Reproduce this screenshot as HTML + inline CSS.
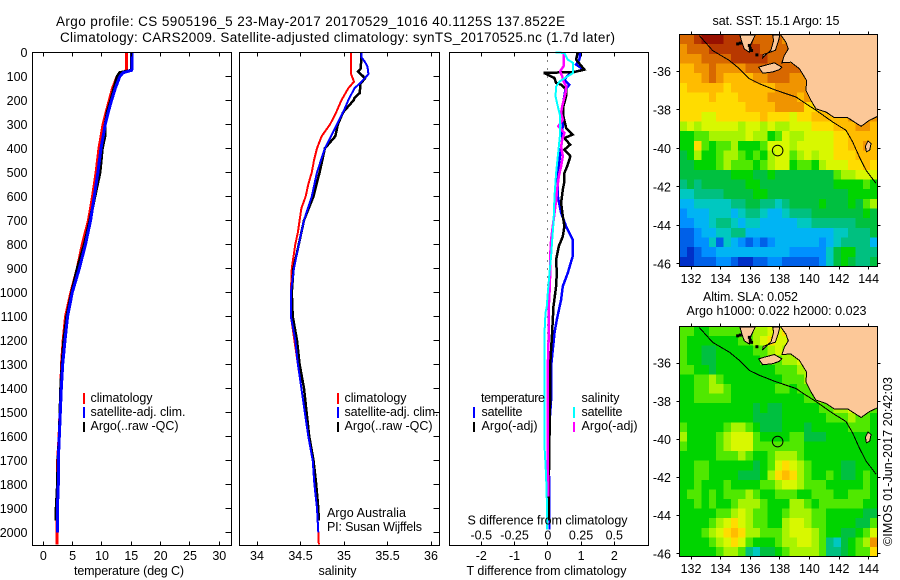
<!DOCTYPE html>
<html lang="en">
<head>
<meta charset="utf-8">
<title>Argo profile 5905196_5</title>
<style>
html,body{margin:0;padding:0;background:#fff;}
svg{display:block;}
text{font-family:"Liberation Sans",sans-serif;font-size:12.5px;fill:#000;}
.title{font-size:13.5px;}
</style>
</head>
<body>
<svg id="chart" xmlns="http://www.w3.org/2000/svg" width="900" height="580" viewBox="0 0 900 580">
<rect x="0" y="0" width="900" height="580" fill="#fff"/>
<text class="title" x="56" y="26" textLength="509" lengthAdjust="spacing">Argo profile: CS 5905196_5 23-May-2017 20170529_1016 40.1125S 137.8522E</text>
<text class="title" x="60" y="42" textLength="555" lengthAdjust="spacing">Climatology: CARS2009. Satellite-adjusted climatology: synTS_20170525.nc (1.7d later)</text>
<g id="layer-marks"></g>
<g id="layer-frames"></g>

<text x="74" y="575" textLength="110" lengthAdjust="spacing">temperature (deg C)</text>
<text x="318.500" y="575" textLength="38" lengthAdjust="spacing">salinity</text>
<text x="467.500" y="524.500" textLength="160" lengthAdjust="spacing">S difference from climatology</text>
<text x="466.500" y="575" textLength="160" lengthAdjust="spacing">T difference from climatology</text>

<g>
<rect x="83" y="393" width="2" height="11" fill="#ff0000"/>
<rect x="83" y="407" width="2" height="11" fill="#0000ff"/>
<rect x="83" y="422" width="2" height="10" fill="#000"/>
<text x="90.500" y="402" textLength="62" lengthAdjust="spacing">climatology</text>
<text x="90.500" y="416" textLength="95" lengthAdjust="spacing">satellite-adj. clim.</text>
<text x="90.500" y="430" textLength="88" lengthAdjust="spacing">Argo(..raw -QC)</text>
</g>
<g>
<rect x="337" y="393" width="2" height="11" fill="#ff0000"/>
<rect x="337" y="407" width="2" height="11" fill="#0000ff"/>
<rect x="337" y="422" width="2" height="10" fill="#000"/>
<text x="344.500" y="402" textLength="62" lengthAdjust="spacing">climatology</text>
<text x="344.500" y="416" textLength="94" lengthAdjust="spacing">satellite-adj. clim.</text>
<text x="344.500" y="430" textLength="88" lengthAdjust="spacing">Argo(..raw -QC)</text>
</g>
<text x="327" y="517" textLength="79" lengthAdjust="spacing">Argo Australia</text>
<text x="327" y="531" textLength="95" lengthAdjust="spacing">PI: Susan Wijffels</text>
<g>
<text x="481" y="402" textLength="64" lengthAdjust="spacing">temperature</text>
<text x="581.500" y="402" textLength="38" lengthAdjust="spacing">salinity</text>
<rect x="473" y="407" width="2" height="11" fill="#0000ff"/>
<rect x="473" y="422" width="2" height="10" fill="#000"/>
<rect x="573" y="407" width="2" height="11" fill="#00ffff"/>
<rect x="573" y="422" width="2" height="10" fill="#ff00ff"/>
<text x="481.500" y="416" textLength="41" lengthAdjust="spacing">satellite</text>
<text x="481.500" y="430" textLength="56" lengthAdjust="spacing">Argo(-adj)</text>
<text x="581.500" y="416" textLength="41" lengthAdjust="spacing">satellite</text>
<text x="581.500" y="430" textLength="56" lengthAdjust="spacing">Argo(-adj)</text>
</g>

<text x="712.500" y="25" textLength="127" lengthAdjust="spacing">sat. SST: 15.1 Argo: 15</text>
<text x="703" y="301" textLength="95" lengthAdjust="spacing">Altim. SLA: 0.052</text>
<text x="686.500" y="315" textLength="180" lengthAdjust="spacing">Argo h1000: 0.022 h2000: 0.023</text>
<text transform="translate(892,546) rotate(-90)" textLength="169" lengthAdjust="spacing">©IMOS 01-Jun-2017 20:42:03</text>
</svg>
<script>
// ---------- axis tick labels ----------
const depthTicks = [0,100,200,300,400,500,600,700,800,900,1000,1100,1200,1300,1400,1500,1600,1700,1800,1900,2000];
const tempTicks = [0,5,10,15,20,25,30];
const salTicks = [34,34.5,35,35.5,36];
const tDiffTicks = [-2,-1,0,1,2];
const sDiffTicks = [-0.5,-0.25,0,0.25,0.5];
const lonTicks = [132,134,136,138,140,142,144];
const latTicks = [-36,-38,-40,-42,-44,-46];

// ---------- temperature panel ----------
const tClimDepth = [0,75,85,100,150,200,250,300,400,500,600,700,800,900,1000,1100,1200,1300,1400,1500,1600,1700,1800,1900,2000,2050];
const tClimValue = [14.2,14.2,13.6,12.6,11.8,11.25,10.7,10.2,9.5,9.0,8.4,7.7,6.65,5.8,4.7,3.8,3.4,3.1,3.0,2.85,2.7,2.45,2.4,2.3,2.35,2.35];
const tSatDepth = [0,70,75,85,100,150,200,250,300,400,500,600,700,800,900,1000,1100,1200,1300,1400,1500,1600,1700,1800,1900,2000];
const tSatValue = [15.1,15.1,15.05,13.6,13.05,12.27,11.65,11.07,10.57,9.83,9.3,8.7,8.07,7.2,6.15,4.95,4.15,3.7,3.3,3.07,2.9,2.73,2.56,2.56,2.4,2.4];
const tArgoDepth = [0,75,85,100,150,200,250,300,350,400,500,600,700,800,900,1000,1100,1200,1300,1400,1500,1600,1700,1800,1900,1950];
const tArgoValue = [15.0,15.0,13.0,12.6,12.05,11.5,10.9,10.55,10.5,10.05,9.66,8.8,7.95,7.0,5.8,4.84,4.0,3.5,3.2,2.96,2.85,2.73,2.5,2.42,2.2,2.2];

// ---------- salinity panel ----------
const sClimDepth = [0,90,122,150,200,250,300,350,400,450,500,550,600,650,700,750,800,900,1000,1100,1200,1300,1400,1500,1600,1700,1800,1900,2000,2050];
const sClimValue = [35.08,35.08,35.115,35.05,34.97,34.91,34.84,34.743,34.69,34.655,34.63,34.59,34.56,34.51,34.49,34.47,34.44,34.4,34.39,34.39,34.43,34.47,34.51,34.55,34.6,34.65,34.67,34.69,34.705,34.71];
const sSatDepth = [0,20,40,60,90,100,130,150,200,250,300,400,500,600,700,800,900,1000,1100,1200,1300,1400,1500,1600,1700,1800,1900,2000];
const sSatValue = [35.2,35.2,35.24,35.27,35.28,35.26,35.18,35.12,35.05,34.99,34.92,34.78,34.69,34.63,34.54,34.48,34.425,34.39,34.39,34.44,34.47,34.51,34.55,34.59,34.64,34.66,34.69,34.705];
const sArgoDepth = [0,30,70,80,100,110,130,170,190,200,250,300,350,400,500,600,700,800,900,1000,1100,1200,1300,1400,1500,1600,1700,1800,1900,1950];
const sArgoValue = [35.2,35.2,35.19,35.16,35.22,35.24,35.19,35.18,35.12,35.11,34.99,34.93,34.9,34.78,34.72,34.65,34.54,34.48,34.42,34.4,34.41,34.46,34.49,34.54,34.57,34.6,34.65,34.68,34.705,34.71];

// ---------- difference panel ----------
const dtSatDepth = [0,31,51,72,86,97,114,135,156,197,281,364,503,600,669,725,781,850,919,975,1031,1114,1169,1239,1308,1447,1544,1725,1864,1989];
const dtSatValue = [0.97,0.95,0.85,1.07,0.7,0.6,0.5,0.65,0.53,0.48,0.45,0.43,0.3,0.3,0.4,0.55,0.75,0.75,0.6,0.45,0.4,0.27,0.2,0.15,0.1,0.1,0.05,0.03,0.05,0.05];
const dtArgoDepth = [0,31,72,82,86,107,128,135,156,183,225,267,315,343,357,385,406,433,468,503,538,572,628,683,725,767,808,864,919,975,1058,1114,1169,1308,1447,1600,1800,1950];
const dtArgoValue = [0.9,0.85,1.1,0.8,-0.12,0.2,0.25,0.4,0.55,0.55,0.47,0.47,0.55,0.75,0.5,0.67,0.5,0.68,0.6,0.5,0.5,0.45,0.4,0.45,0.5,0.45,0.33,0.25,0.27,0.25,0.17,0.15,0.13,0.07,0.07,0.05,0.03,0.03];
const dsSatDepth = [0,3,31,44,86,100,121,142,183,225,267,336,433,503,600,711,781,850,919,1003,1058,1086,1169,1447,1640,1765,1864,1989];
const dsSatValue = [0.058,0.125,0.15,0.19,0.19,0.15,0.09,0.063,0.058,0.075,0.093,0.093,0.075,0.0625,0.05,0.043,0.033,0.025,0.0125,0,-0.0075,-0.0175,-0.025,-0.025,-0.025,-0.0125,-0.0075,-0.005];
const dsArgoDepth = [5,24,58,79,100,121,142,169,225,253,281,308,336,364,392,433,475,517,572,614,669,781,850,919,1003,1058,1100,1169,1308,1447,1586,1725,1850];
const dsArgoValue = [0.118,0.118,0.118,0.093,0.108,0.118,0.138,0.133,0.108,0.1,0.113,0.08,0.125,0.108,0.1,0.113,0.1,0.083,0.07,0.063,0.05,0.025,0.018,0.018,0.0125,0.0075,0.0075,0.0075,0,0,0,0,0.005];

// ---------- maps: colour level per cell, 27 columns by 24 rows ----------
const sstLevels = [
[14,14,15,16,16,16,15,15,15,15,14,14,14,14,13,13,13,13,13,13,13,13,13,13,13,13,13],
[13,14,14,14,15,15,15,15,15,15,15,14,14,14,14,13,13,13,13,13,13,13,13,13,13,13,13],
[13,13,13,14,14,14,14,15,15,15,15,15,14,14,14,13,13,12,13,13,13,13,13,13,13,13,13],
[12,12,13,13,14,13,13,13,13,14,14,14,14,14,14,14,14,13,13,13,13,13,13,13,13,13,13],
[12,12,12,13,14,13,12,12,12,12,13,13,14,14,14,13,13,13,13,13,12,13,13,13,13,13,13],
[11,12,12,12,12,12,11,12,12,12,12,12,12,13,13,13,13,13,13,13,12,11,13,13,13,13,13],
[11,11,11,11,12,11,11,11,12,12,12,12,13,13,13,13,12,13,13,13,12,13,13,13,13,13,13],
[11,11,11,11,11,11,11,11,11,12,12,12,12,13,13,13,13,11,11,12,12,13,13,13,13,12,13],
[11,11,11,10,10,11,11,11,11,11,11,12,11,11,11,10,11,11,12,12,12,12,12,13,13,13,13],
[9,10,9,10,10,10,10,10,9,10,10,9,10,9,9,10,10,10,11,11,11,12,12,12,13,13,12],
[7,7,8,8,9,9,9,9,9,10,9,9,7,8,10,9,9,10,10,10,10,11,11,12,12,12,12],
[7,7,11,8,7,8,8,9,7,7,7,8,10,10,10,9,10,10,10,10,10,11,11,12,12,13,12],
[6,7,9,7,7,8,9,9,8,7,8,7,9,10,10,8,9,10,9,10,10,11,11,11,12,12,12],
[6,6,7,7,7,8,9,8,8,8,7,8,9,10,10,7,8,8,7,9,10,10,10,11,11,12,11],
[6,6,6,6,6,6,6,7,7,7,6,6,7,6,6,6,6,6,6,6,6,8,9,9,10,10,10],
[5,6,5,6,6,6,6,6,6,7,7,6,6,6,6,6,6,6,6,6,6,7,7,7,7,8,7],
[4,4,5,5,5,5,6,6,6,6,7,7,6,6,6,6,6,6,6,6,6,6,6,7,7,7,7],
[3,3,4,4,4,4,4,5,5,6,6,5,5,4,5,6,6,6,6,7,6,6,6,7,6,8,9],
[2,3,3,3,4,4,4,3,4,5,5,4,3,3,4,5,5,5,6,6,6,6,6,6,6,7,6],
[2,2,3,3,4,5,5,4,3,4,4,3,3,3,3,3,4,4,5,5,5,5,5,5,6,6,6],
[1,1,2,3,3,4,4,5,5,3,3,3,3,3,3,3,3,3,3,3,3,4,4,5,5,5,6],
[1,1,2,2,4,1,4,3,2,1,2,1,2,3,3,3,3,3,3,2,3,4,5,5,5,5,3],
[1,0,1,2,2,3,3,3,3,3,3,3,3,3,3,2,2,2,2,2,4,6,7,7,5,5,5],
[0,0,1,1,1,2,2,1,0,0,1,1,2,2,1,1,1,1,1,2,4,6,7,6,5,5,6]
];
const slaLevels = [
[8,8,7,7,8,8,8,8,8,8,9,9,10,10,11,11,10,10,10,10,10,10,10,10,10,10,10],
[8,7,7,7,7,7,7,7,8,8,9,10,11,10,10,10,10,9,9,9,9,9,9,9,9,9,9],
[8,7,7,6,6,7,7,7,7,7,8,8,9,10,9,9,10,10,10,10,10,10,10,10,10,10,10],
[8,7,7,6,6,7,7,7,7,7,7,8,8,8,9,9,10,10,10,10,10,10,10,10,10,10,10],
[8,8,7,7,6,7,7,7,7,7,7,7,7,8,8,8,9,9,10,10,10,10,10,10,10,10,10],
[7,7,8,8,9,8,7,7,7,7,7,7,7,7,8,8,8,9,9,10,10,10,10,10,10,10,10],
[7,7,8,8,9,9,8,7,7,7,7,7,7,8,8,7,8,8,9,9,10,10,10,10,10,10,10],
[7,7,8,8,8,8,8,7,7,7,7,7,7,7,7,7,7,8,8,9,9,10,10,10,10,10,10],
[7,7,7,7,7,7,7,7,7,7,6,7,6,6,7,7,7,7,7,8,8,9,9,10,9,8,8],
[7,7,7,7,7,7,7,7,7,7,6,6,6,6,7,7,7,7,7,7,8,8,8,9,8,8,7],
[8,7,7,7,7,7,8,9,9,8,7,6,6,6,7,7,7,6,7,7,7,7,7,8,8,8,7],
[9,7,7,7,7,8,9,10,10,10,8,7,7,7,7,8,8,6,6,6,7,7,7,7,7,7,7],
[8,7,7,7,7,8,9,10,10,10,8,8,8,8,8,8,8,7,7,7,7,7,7,7,7,7,7],
[7,7,7,7,7,8,8,8,9,8,7,7,8,9,9,9,8,7,7,7,7,7,7,7,7,7,7],
[7,7,8,8,7,7,7,7,7,7,6,7,8,10,11,10,9,8,7,7,7,7,6,6,7,7,7],
[7,7,8,8,7,7,7,7,6,6,6,7,9,11,12,11,9,8,7,7,8,7,6,6,7,8,7],
[7,7,8,7,7,7,8,7,7,7,7,8,8,9,10,10,9,8,8,8,7,7,7,7,7,8,7],
[7,8,8,7,8,7,8,8,8,9,8,7,7,8,8,8,7,7,8,8,8,7,7,8,8,8,7],
[7,7,8,7,8,7,7,8,9,9,9,8,7,7,7,9,9,8,7,8,8,8,8,8,8,7,7],
[7,7,7,7,7,8,8,9,10,9,8,8,7,7,8,9,9,9,8,8,7,7,7,7,7,6,6],
[7,7,7,7,8,9,10,11,10,9,8,8,7,7,9,10,10,9,8,8,7,7,7,7,6,6,8],
[7,7,7,8,9,10,11,12,11,9,9,8,8,8,9,10,10,10,9,8,7,7,6,6,7,8,10],
[7,7,7,7,8,9,10,11,10,8,7,7,7,8,9,9,10,10,9,8,5,4,6,7,8,9,13],
[7,7,7,7,7,8,9,9,8,5,4,6,6,7,8,9,9,9,9,8,5,5,6,7,8,8,11]
];
const levelColors = ['#0030c8','#0060e8','#0090ff','#00b4f4','#00c8c0','#00c080','#00c040','#00d400','#50e800','#a8f400','#d8f800','#ffdc00','#ffbc00','#f09400','#d86800','#b83800','#981000'];

// ---------- geography, degrees ----------
const mainlandLon = [138.0,138.08,138.41,138.57,138.30,138.14,138.75,139.32,139.81,139.77,140.10,140.44,141.12,141.68,142.58,142.92,143.49,144.05,144.62,144.62];
const mainlandLat = [-33.9,-34.12,-34.48,-34.83,-35.17,-35.55,-35.52,-35.86,-36.47,-36.99,-37.50,-37.94,-38.11,-38.40,-38.40,-38.57,-38.85,-38.54,-38.33,-33.9];
const eyreLon = [135.3,135.44,135.6,135.94,136.05,136.34];
const eyreLat = [-34.1,-34.48,-34.83,-35.0,-34.57,-34.1];
const yorkeLon = [137.52,137.58,137.4,136.84,136.88,137.7,137.92,138.0];
const yorkeLat = [-34.1,-34.39,-34.88,-35.29,-35.12,-34.9,-34.39,-34.1];
const kangarooLon = [136.57,136.95,137.63,138.14,137.96,137.51,136.84];
const kangarooLat = [-35.78,-35.69,-35.55,-35.78,-35.91,-36.03,-36.09];
const kingLon = [143.96,144.16,144.07,143.85,143.78];
const kingLat = [-39.61,-39.75,-40.09,-40.18,-39.89];
const shelfLon = [132.56,133.46,134.59,135.27,135.94,136.62,137.74,139.09,139.77,140.45,141.57,142.47,142.92,143.37,143.82,144.5];
const shelfLat = [-34.13,-34.91,-35.43,-35.86,-36.38,-36.64,-36.98,-37.33,-37.68,-38.02,-38.63,-39.06,-39.66,-40.44,-41.13,-41.82];
const reefLon = [135.15,135.33,135.94,136.09,136.45,136.0];
const reefLat = [-34.57,-34.53,-34.65,-34.91,-35.14,-34.8];
const floatLon = 137.8522;
const floatLat = -40.1125;

// ---------- helpers ----------
const SVGNS = 'http://www.w3.org/2000/svg';
const marks = document.getElementById('layer-marks');
const frames = document.getElementById('layer-frames');
function make(tag, attrs, parent, content) {
  const e = document.createElementNS(SVGNS, tag);
  for (const k in attrs) e.setAttribute(k, attrs[k]);
  if (content !== undefined) e.textContent = content;
  parent.appendChild(e);
  return e;
}
function linear(d0, d1, r0, r1) {
  return v => r0 + (v - d0) * (r1 - r0) / (d1 - d0);
}
const depthY = linear(0, 2000, 52.3, 532.3);
const tempX = linear(0, 30, 43.3, 219.3);
const salX = linear(34, 36, 257, 431);
const tDiffX = linear(-2, 2, 481.3, 614.3);
const sDiffX = linear(-0.5, 0.5, 481.3, 614.3);
const P1 = {l:32.5, r:231.5, t:52.5, b:545.5};
const P2 = {l:239.5, r:439.5, t:52.5, b:545.5};
const P3 = {l:449.5, r:648.5, t:52.5, b:545.5};

function px(v) { return Math.round(v - 0.5) + 0.5; }
function profile(depths, values, xFn, color, width, name, parent) {
  const pts = depths.map((d, i) => xFn(values[i]).toFixed(1) + ',' + depthY(d).toFixed(1)).join(' ');
  const line = make('polyline', {points: pts, fill: 'none', stroke: color, 'stroke-width': width, 'shape-rendering': 'crispEdges', 'stroke-linejoin': 'miter'}, parent);
  
  
}
function frame(p, name) {
  const r = make('rect', {x: p.l, y: p.t, width: p.r - p.l, height: p.b - p.t, fill: 'none', stroke: '#000', 'stroke-width': 1, 'shape-rendering': 'crispEdges'}, frames);
  
  
}
function tick(x1, y1, x2, y2) {
  const t = make('line', {x1: x1, y1: y1, x2: x2, y2: y2, stroke: '#000', 'stroke-width': 1, 'shape-rendering': 'crispEdges'}, frames);
  
  
}
function label(x, y, str, anchor) {
  const t = make('text', {x: x, y: y, 'text-anchor': anchor}, frames, str);
  
  
}

// ---------- profile panels ----------
profile(tClimDepth, tClimValue, tempX, '#ff0000', 3, 'temperature-climatology-line', marks);
profile(tArgoDepth, tArgoValue, tempX, '#000000', 3, 'temperature-argo-line', marks);
profile(tSatDepth, tSatValue, tempX, '#0000ff', 3, 'temperature-satellite-line', marks);
profile(sClimDepth, sClimValue, salX, '#ff0000', 2, 'salinity-climatology-line', marks);
profile(sArgoDepth, sArgoValue, salX, '#000000', 2.5, 'salinity-argo-line', marks);
profile(sSatDepth, sSatValue, salX, '#0000ff', 2, 'salinity-satellite-line', marks);

const zeroLine = make('line', {x1: px(tDiffX(0)), y1: P3.t, x2: px(tDiffX(0)), y2: depthY(2000), stroke: '#000', 'stroke-width': 1, 'stroke-dasharray': '1 7', 'shape-rendering': 'crispEdges'}, marks);


profile(dtSatDepth, dtSatValue, tDiffX, '#0000ff', 2.5, 'difference-t-satellite-line', marks);
profile(dtArgoDepth, dtArgoValue, tDiffX, '#000000', 2.5, 'difference-t-argo-line', marks);
profile(dsArgoDepth, dsArgoValue, sDiffX, '#ff00ff', 2.5, 'difference-s-argo-line', marks);
profile(dsSatDepth, dsSatValue, sDiffX, '#00ffff', 2, 'difference-s-satellite-line', marks);

frame(P1, 'temperature-plot-frame');
frame(P2, 'salinity-plot-frame');
frame(P3, 'difference-plot-frame');

depthTicks.forEach(d => {
  const y = px(depthY(d));
  label(27.5, y + 4.5, String(d), 'end');
  tick(P1.r - 6, y, P1.r, y);
  tick(P2.r - 6, y, P2.r, y);
});
tempTicks.forEach(v => {
  const x = px(tempX(v));
  tick(x, P1.t, x, P1.t + 4);
  tick(x, P1.b - 4, x, P1.b);
  label(tempX(v), 560, String(v), 'middle');
});
salTicks.forEach(v => {
  const x = px(salX(v));
  tick(x, P2.t, x, P2.t + 4);
  tick(x, P2.b - 4, x, P2.b);
  label(salX(v), 560, String(v), 'middle');
});
tDiffTicks.forEach(v => {
  const x = px(tDiffX(v));
  tick(x, P3.t, x, P3.t + 4);
  tick(x, P3.b - 4, x, P3.b);
  label(tDiffX(v), 560, String(v), 'middle');
});
sDiffTicks.forEach(v => {
  label(sDiffX(v), 539.5, String(v), 'middle');
});

// ---------- maps ----------
function drawMap(levels, box, name) {
  const lonMin = 131.22, lonMax = 144.6, latTop = -34.08, latBottom = -46.14;
  const lonX = linear(lonMin, lonMax, box.l, box.r);
  const latY = linear(latTop, latBottom, box.t, box.b);
  const g = make('g', {'shape-rendering': 'crispEdges'}, marks);
  
  
  const dLon = (lonMax - lonMin) / levels[0].length;
  const dLat = (latBottom - latTop) / levels.length;
  levels.forEach((row, r) => {
    row.forEach((level, c) => {
      const x0 = lonX(lonMin + c * dLon), x1 = lonX(lonMin + (c + 1) * dLon);
      const y0 = latY(latTop + r * dLat), y1 = latY(latTop + (r + 1) * dLat);
      const cell = make('rect', {x: x0.toFixed(2), y: y0.toFixed(2), width: (x1 - x0 + 0.6).toFixed(2), height: (y1 - y0 + 0.6).toFixed(2), fill: levelColors[level]}, g);
      
      
    });
  });
  const clipId = name + '-clip';
  const defs = make('clipPath', {id: clipId}, marks);
  make('rect', {x: box.l, y: box.t, width: box.r - box.l, height: box.b - box.t}, defs);
  const geo = make('g', {'clip-path': 'url(#' + clipId + ')'}, marks);
  
  
  function land(lons, lats, landName) {
    const pts = lons.map((v, i) => lonX(v).toFixed(1) + ',' + latY(lats[i]).toFixed(1)).join(' ');
    const p = make('polygon', {points: pts, fill: '#fcc898', stroke: '#000', 'stroke-width': 1, 'shape-rendering': 'crispEdges'}, geo);
    
    
  }
  land(mainlandLon, mainlandLat, 'mainland');
  land(eyreLon, eyreLat, 'eyre-peninsula');
  land(yorkeLon, yorkeLat, 'yorke-peninsula');
  land(kangarooLon, kangarooLat, 'kangaroo-island');
  land(kingLon, kingLat, 'king-island');
  reefLon.forEach((v, i) => {
    const dot = make('rect', {x: lonX(v) - 1.5, y: latY(reefLat[i]) - 1.5, width: 3, height: 3, fill: '#000'}, geo);
    
    
  });
  const shelfPts = shelfLon.map((v, i) => lonX(v).toFixed(1) + ',' + latY(shelfLat[i]).toFixed(1)).join(' ');
  const shelf = make('polyline', {points: shelfPts, fill: 'none', stroke: '#000', 'stroke-width': 1, 'shape-rendering': 'crispEdges'}, geo);
  
  
  const marker = make('circle', {cx: lonX(floatLon), cy: latY(floatLat), r: 5.3, fill: 'none', stroke: '#000', 'stroke-width': 1}, geo);
  
  
  frame(box, name + '-frame');
  lonTicks.forEach(v => {
    const x = px(lonX(v));
    tick(x, box.t - 3, x, box.t);
    tick(x, box.b, x, box.b + 3);
    label(lonX(v), box.b + 16.5, String(v), 'middle');
  });
  latTicks.forEach(v => {
    const y = px(latY(v));
    tick(box.l - 3, y, box.l, y);
    tick(box.r, y, box.r + 3, y);
    label(671, latY(v) + 4.5, String(v), 'end');
  });
}
drawMap(sstLevels, {l: 679.5, r: 877.5, t: 34.5, b: 266.5}, 'sst-map');
drawMap(slaLevels, {l: 679.5, r: 877.5, t: 326.5, b: 556.5}, 'sla-map');
</script>
</body>
</html>
